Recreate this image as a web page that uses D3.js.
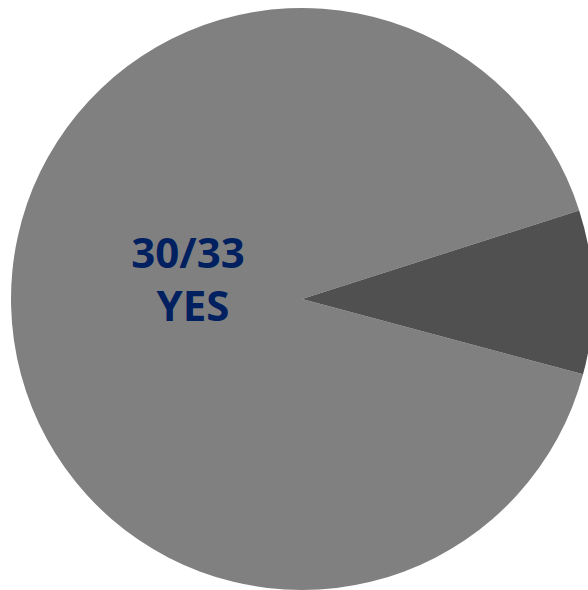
<!DOCTYPE html>
<html><head><meta charset="utf-8">
<script src="https://cdn.jsdelivr.net/npm/d3@7"></script>
<style>html,body{margin:0;padding:0;background:#fff;overflow:hidden}</style>
</head><body>
<svg id="chart" width="588" height="590"></svg>
<script>
const categories = ["YES", "NO"];
const values = [30, 3];
const colors = ["#808080", "#505050"];
const labelLines = ["30/33", "YES"];

const svg = d3.select("#chart");
const cx = 302, cy = 299, r = 291;
const start = 105 * Math.PI / 180;
const pie = d3.pie().sort(null).value(d => d).startAngle(start).endAngle(start + 2 * Math.PI);
const arc = d3.arc().innerRadius(0).outerRadius(r);
const g = svg.append("g").attr("transform", `translate(${cx},${cy})`);
g.selectAll("path").data(pie(values)).join("path")
  .attr("d", arc)
  .attr("fill", (d, i) => colors[i]);

const lbl = svg.append("g").attr("font-family", "'Open Sans', sans-serif")
  .attr("font-weight", "bold").attr("font-size", 42).attr("fill", "#002060")
  .attr("text-anchor", "middle");
lbl.append("text").attr("x", 188).attr("y", 268).text(labelLines[0]);
lbl.append("text").attr("x", 193).attr("y", 321).text(labelLines[1]);
</script>
</body></html>
